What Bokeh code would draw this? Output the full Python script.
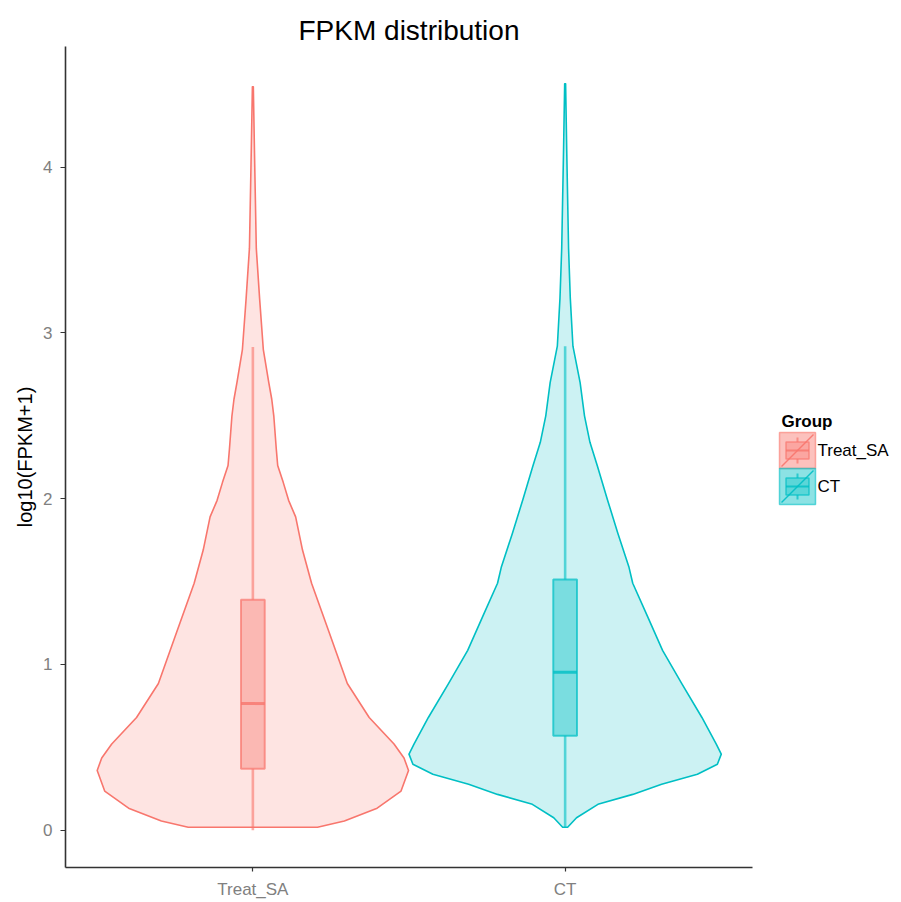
import numpy as np
from bokeh.plotting import figure
from bokeh.models import Range1d, FixedTicker
from bokeh.layouts import row
from bokeh.embed import file_html
from bokeh.resources import INLINE
from bokeh.core.properties import value

# ---------------- data ----------------
title = "FPKM distribution"
y_label = "log10(FPKM+1)"
legend_title = "Group"
categories = ["Treat_SA", "CT"]
colors = ["#F8766D", "#00BFC4"]
y_ticks = [0, 1, 2, 3, 4]

# violin outlines: y levels (log10(FPKM+1)) and relative half-width (density, max = 1)
treat_y = [0.018, 0.055, 0.133, 0.236, 0.36, 0.436, 0.52, 0.68, 0.885, 1.19, 1.49, 1.69, 1.89,
           1.99, 2.10, 2.20, 2.30, 2.50, 2.60, 2.70, 2.90, 3.21, 3.51, 3.81, 4.11, 4.485]
treat_w = [0.414, 0.586, 0.796, 0.949, 0.997, 0.968, 0.904, 0.745, 0.605, 0.490, 0.376, 0.318, 0.274,
           0.229, 0.194, 0.159, 0.150, 0.134, 0.121, 0.102, 0.067, 0.043, 0.022, 0.016, 0.010, 0.003]

ct_y = [0.018, 0.075, 0.156, 0.216, 0.277, 0.338, 0.398, 0.459, 0.519, 0.68, 0.883, 1.085, 1.287,
        1.49, 1.59, 1.79, 1.994, 2.196, 2.34, 2.50, 2.70, 2.92, 3.21, 3.51, 3.81, 4.11, 4.503]
ct_w = [0.016, 0.073, 0.210, 0.433, 0.618, 0.847, 0.975, 1.0, 0.968, 0.876, 0.748, 0.624, 0.529,
        0.433, 0.408, 0.338, 0.271, 0.207, 0.159, 0.124, 0.096, 0.050, 0.033, 0.022, 0.016, 0.010, 0.003]

# box stats: lower whisker, Q1, median, Q3, upper whisker
treat_box = [0.0, 0.37, 0.764, 1.39, 2.915]
ct_box = [0.018, 0.57, 0.953, 1.513, 2.92]

violin_y = [treat_y, ct_y]
violin_w = [treat_w, ct_w]
boxes = [treat_box, ct_box]

# ---------------- style ----------------
FONT = "Liberation Sans"
VIOLIN_HALF = 0.5
BOX_HALF = 0.038

positions = list(range(1, len(categories) + 1))
all_y = treat_y + ct_y + treat_box + ct_box
ymin, ymax = min(all_y + [0.0]), max(all_y)
pad = 0.05 * (ymax - ymin)

MAIN_W, H = 771, 902
BORDER_TOP, BORDER_BOTTOM = 46, 35
p = figure(width=MAIN_W, height=H,
           x_range=Range1d(positions[0] - 0.6, positions[-1] + 0.6),
           y_range=Range1d(ymin - pad, ymax + pad),
           output_backend="svg", toolbar_location=None,
           min_border_left=65, min_border_right=19,
           min_border_top=BORDER_TOP, min_border_bottom=BORDER_BOTTOM)
p.outline_line_color = None
p.grid.visible = False
p.background_fill_color = "white"
p.border_fill_color = "white"

p.title.text = title
p.title.align = "center"
p.title.text_font = FONT
p.title.text_font_size = "28px"
p.title.text_font_style = "normal"
p.title.text_color = "#000000"
p.title.standoff = 2

for pos, ys, ws, box, col in zip(positions, violin_y, violin_w, boxes, colors):
    ys = np.array(ys)
    ws = np.array(ws) * VIOLIN_HALF
    xs = np.concatenate([pos + ws, (pos - ws)[::-1]])
    yy = np.concatenate([ys, ys[::-1]])
    p.patch(xs, yy, fill_color=col, fill_alpha=0.2, line_color=col, line_width=1.6,
            line_join="round")
    lo, q1, med, q3, hi = box
    p.segment(x0=[pos, pos], y0=[q3, lo], x1=[pos, pos], y1=[hi, q1],
              line_color=col, line_alpha=0.6, line_width=2.6)
    p.quad(left=[pos - BOX_HALF], right=[pos + BOX_HALF], bottom=[q1], top=[q3],
           fill_color=col, fill_alpha=0.4, line_color=col, line_alpha=0.7, line_width=2)
    p.segment(x0=[pos - BOX_HALF], y0=[med], x1=[pos + BOX_HALF], y1=[med],
              line_color=col, line_alpha=0.8, line_width=3)

# axes
p.xaxis.ticker = FixedTicker(ticks=positions)
p.xaxis.major_label_overrides = {pos: cat for pos, cat in zip(positions, categories)}
p.yaxis.ticker = FixedTicker(ticks=y_ticks)
for ax in (p.xaxis, p.yaxis):
    ax.axis_line_color = "#333333"
    ax.axis_line_width = 1.6
    ax.major_tick_line_color = "#333333"
    ax.major_tick_line_width = 1.2
    ax.major_tick_in = 0
    ax.major_tick_out = 5
    ax.minor_tick_line_color = None
    ax.major_label_text_font = FONT
    ax.major_label_text_font_size = "17px"
    ax.major_label_text_color = "#808080"
p.xaxis.major_label_standoff = 8
p.xaxis.major_tick_out = 4
p.yaxis.major_label_standoff = 8
p.yaxis.axis_label = y_label
p.yaxis.axis_label_text_font = FONT
p.yaxis.axis_label_text_font_size = "20px"
p.yaxis.axis_label_text_font_style = "normal"
p.yaxis.axis_label_text_color = "#000000"
p.yaxis.axis_label_standoff = 4

# ---------------- legend panel (coordinates = page pixels; frame aligned with main) ----------------
LW = 901 - MAIN_W
lg = figure(width=LW, height=H, x_range=Range1d(0, LW),
            y_range=Range1d(H - BORDER_BOTTOM, BORDER_TOP),
            output_backend="svg", toolbar_location=None, title=None,
            x_axis_type=None, y_axis_type=None, min_border=0,
            min_border_top=BORDER_TOP, min_border_bottom=BORDER_BOTTOM)
lg.outline_line_color = None
lg.grid.visible = False
lg.background_fill_color = "white"
lg.border_fill_color = "white"

key_x0, key_size, key_top0 = 8, 36, 432
lg.text(x=[key_x0 + 2], y=[421], text=[legend_title], text_font=value(FONT),
        text_font_size="17px", text_font_style="bold", text_baseline="middle",
        text_align="left", text_color="#000000")
for i, (cat, col) in enumerate(zip(categories, colors)):
    top = key_top0 + i * key_size
    bot = top + key_size
    cx = key_x0 + key_size / 2
    cy = top + key_size / 2
    lg.quad(left=[key_x0], right=[key_x0 + key_size], top=[top], bottom=[bot],
            fill_color=col, fill_alpha=0.45, line_color=col, line_alpha=0.6, line_width=1.5)
    lg.segment(x0=[cx, cx], y0=[top + 5, cy + 8.5], x1=[cx, cx], y1=[cy - 8.5, bot - 5],
               line_color=col, line_alpha=0.7, line_width=2)
    lg.quad(left=[cx - 11.5], right=[cx + 11.5], top=[cy - 8.5], bottom=[cy + 8.5],
            fill_color=col, fill_alpha=0.35, line_color=col, line_alpha=0.7, line_width=1.5)
    lg.segment(x0=[cx - 11.5], y0=[cy], x1=[cx + 11.5], y1=[cy],
               line_color=col, line_alpha=0.8, line_width=2)
    lg.segment(x0=[key_x0 + 2], y0=[bot - 2], x1=[key_x0 + key_size - 2], y1=[top + 2],
               line_color=col, line_alpha=0.9, line_width=1.5)
    lg.text(x=[key_x0 + key_size + 2], y=[cy], text=[cat], text_font=value(FONT),
            text_font_size="17px", text_baseline="middle", text_align="left",
            text_color="#000000")

layout = row(p, lg)
open("out.html", "w").write(file_html(layout, INLINE))
